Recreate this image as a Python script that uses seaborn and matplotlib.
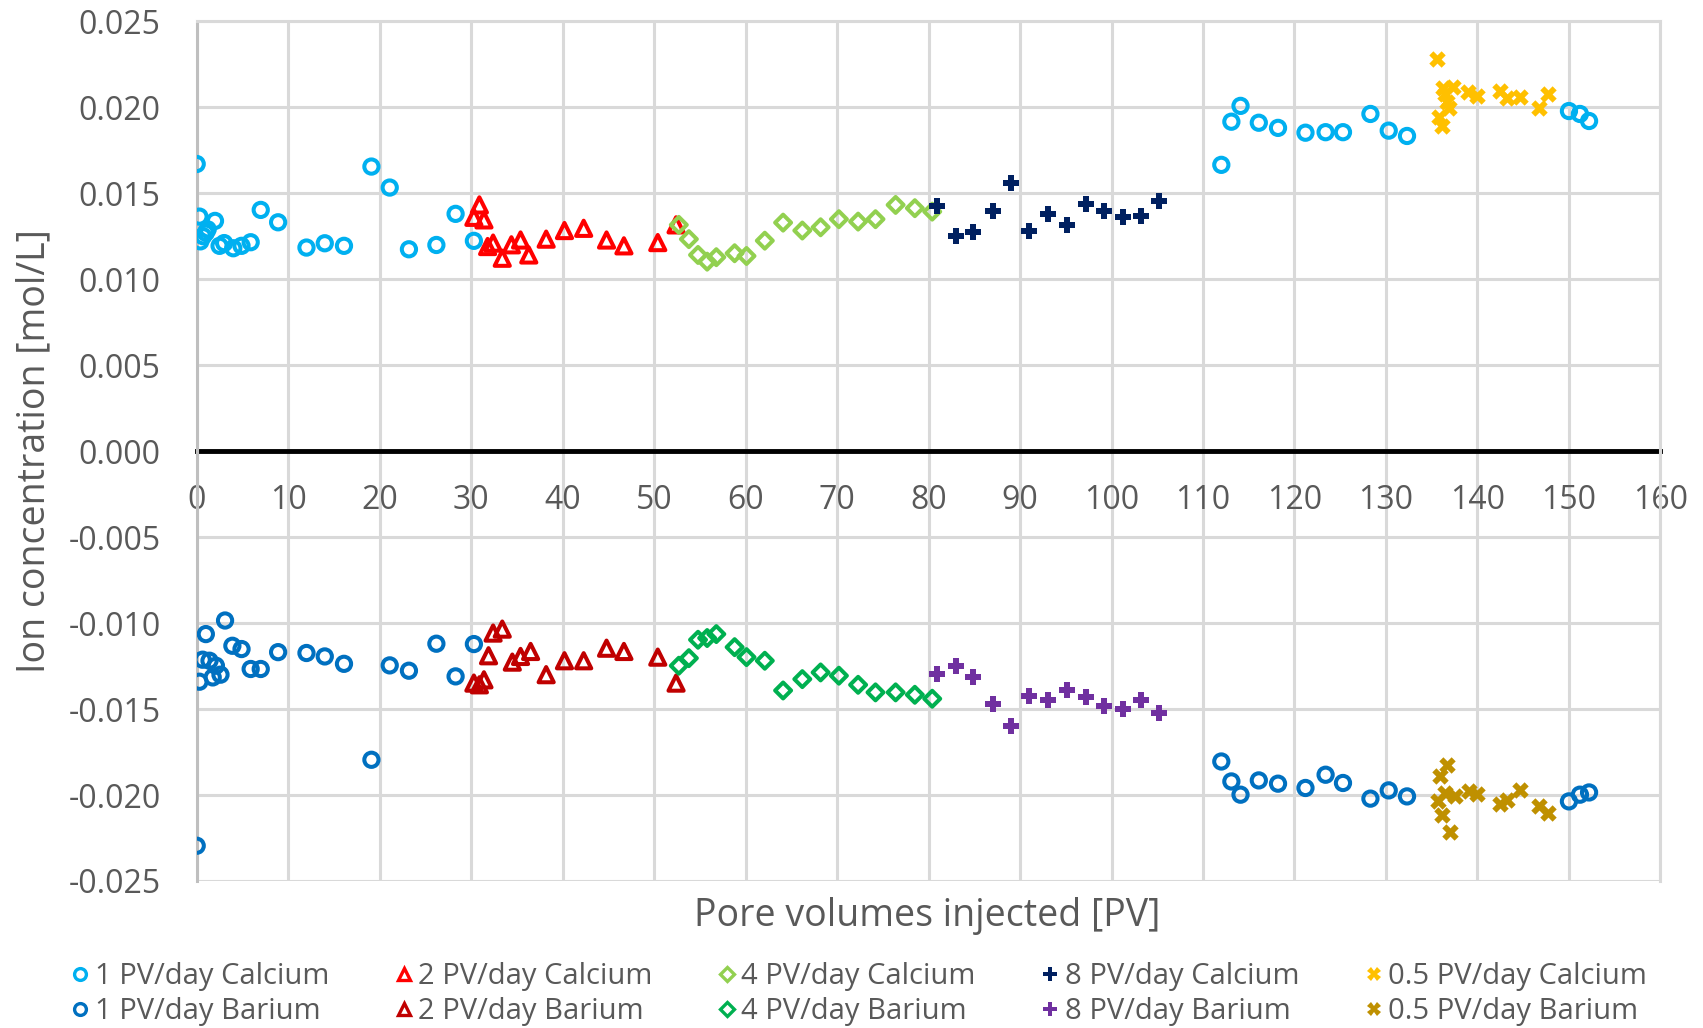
import matplotlib
matplotlib.use("Agg")
import matplotlib.pyplot as plt
import seaborn as sns
import pandas as pd
from matplotlib.lines import Line2D

# ---------------- data ----------------
ca1_x = [0, 0.3, 0.4, 0.7, 1.0, 1.2, 2.0, 2.5, 3.0, 4.0, 4.9, 5.9, 7.0, 8.9, 12.0, 14.0, 16.1,
         19.1, 21.1, 23.2, 26.2, 28.3, 30.3,
         112.0, 113.1, 114.1, 116.1, 118.2, 121.2, 123.4, 125.3, 128.3, 130.3, 132.3, 150.0, 151.2, 152.2]
ca1_y = [0.0167, 0.01364, 0.0122, 0.0125, 0.0127, 0.0129, 0.01339, 0.01194, 0.0121, 0.0118, 0.01194,
         0.01215, 0.01403, 0.01331, 0.01184, 0.01209, 0.01194, 0.01655, 0.01533, 0.01174, 0.01199,
         0.0138, 0.01223,
         0.01665, 0.01916, 0.02008, 0.0191, 0.0188, 0.01852, 0.01855, 0.01855, 0.01961, 0.01864,
         0.01833, 0.01978, 0.01961, 0.0192]

ba1_x = [0, 0.3, 0.65, 1.0, 1.4, 1.75, 2.1, 2.6, 3.1, 3.9, 4.9, 5.9, 7.0, 8.9, 12.0, 14.0, 16.1,
         19.1, 21.1, 23.2, 26.2, 28.3, 30.3,
         112.0, 113.1, 114.1, 116.1, 118.2, 121.2, 123.4, 125.3, 128.3, 130.3, 132.3, 150.0, 151.2, 152.2]
ba1_y = [-0.02295, -0.01341, -0.01213, -0.01064, -0.01219, -0.01316, -0.01248, -0.013, -0.00985,
         -0.01132, -0.01151, -0.01267, -0.01267, -0.01169, -0.01174, -0.01194, -0.01237, -0.01795,
         -0.01246, -0.01277, -0.0112, -0.0131, -0.01122,
         -0.01805, -0.01921, -0.01998, -0.01915, -0.01934, -0.01959, -0.01882, -0.0193, -0.02021,
         -0.01973, -0.02008, -0.02037, -0.01998, -0.01985]

ca2_x = [30.3, 30.9, 31.4, 31.8, 32.4, 33.4, 34.4, 35.4, 36.3, 38.2, 40.2, 42.3, 44.8, 46.7, 50.4, 52.4]
ca2_y = [0.0136, 0.01432, 0.01345, 0.0119, 0.0121, 0.01122, 0.012, 0.01228, 0.01141, 0.01233,
         0.01283, 0.01296, 0.01228, 0.01194, 0.01213, 0.01316]
ba2_x = [30.3, 30.9, 31.4, 31.9, 32.4, 33.4, 34.5, 35.4, 36.5, 38.2, 40.2, 42.3, 44.8, 46.7, 50.4, 52.4]
ba2_y = [-0.01349, -0.01359, -0.0133, -0.0119, -0.01058, -0.01035, -0.01227, -0.01194, -0.01165,
         -0.013, -0.01219, -0.01219, -0.01146, -0.01165, -0.01198, -0.01349]

pv4_x = [52.7, 53.8, 54.8, 55.8, 56.8, 58.8, 60.1, 62.1, 64.1, 66.2, 68.2, 70.2, 72.3, 74.2, 76.4, 78.5, 80.4]
ca4_y = [0.01316, 0.01233, 0.01141, 0.01102, 0.01128, 0.01151, 0.01135, 0.01224, 0.01329, 0.01283,
         0.01302, 0.01349, 0.01335, 0.01349, 0.01432, 0.01413, 0.01393]
ba4_y = [-0.01248, -0.01204, -0.01097, -0.01087, -0.01064, -0.0114, -0.01198, -0.01219, -0.01392,
         -0.01326, -0.01287, -0.01306, -0.01359, -0.01403, -0.01403, -0.01417, -0.0144]

pv8_x = [80.9, 83.0, 84.9, 87.0, 89.0, 91.0, 93.1, 95.1, 97.2, 99.2, 101.2, 103.2, 105.2]
ca8_y = [0.01428, 0.01252, 0.01277, 0.01399, 0.01558, 0.01281, 0.01378, 0.01316, 0.01436, 0.01399,
         0.01364, 0.0137, 0.01457]
ba8_y = [-0.01295, -0.01252, -0.01314, -0.01469, -0.01601, -0.01423, -0.0145, -0.01388, -0.01427,
         -0.01481, -0.01498, -0.0145, -0.01523]

ca05_x = [135.6, 136.2, 137.3, 136.5, 136.7, 136.9, 135.8, 136.1, 139.0, 140.0, 142.5, 143.2, 144.6, 146.7, 147.7]
ca05_y = [0.02281, 0.0211, 0.0212, 0.02076, 0.02029, 0.01994, 0.01945, 0.01891, 0.02091, 0.02067,
          0.02095, 0.02052, 0.02062, 0.01994, 0.02076]
ba05_x = [136.7, 135.9, 136.5, 137.5, 135.7, 136.1, 137.0, 139.1, 140.0, 142.5, 143.2, 144.6, 146.7, 147.7]
ba05_y = [-0.01828, -0.01892, -0.01988, -0.02008, -0.02037, -0.02115, -0.02215, -0.01979, -0.01994,
          -0.0205, -0.0203, -0.01969, -0.02066, -0.02105]

x_ticks = [0, 10, 20, 30, 40, 50, 60, 70, 80, 90, 100, 110, 120, 130, 140, 150, 160]
y_ticks = [-0.025, -0.020, -0.015, -0.010, -0.005, 0.0, 0.005, 0.010, 0.015, 0.020, 0.025]
x_label = "Pore volumes injected [PV]"
y_label = "Ion concentration [mol/L]"

series = [
    ("1 PV/day Calcium", ca1_x, ca1_y, "o", "#00B0F0", True),
    ("1 PV/day Barium", ba1_x, ba1_y, "o", "#0070C0", True),
    ("2 PV/day Calcium", ca2_x, ca2_y, "^", "#FF0000", True),
    ("2 PV/day Barium", ba2_x, ba2_y, "^", "#C00000", True),
    ("4 PV/day Calcium", pv4_x, ca4_y, "D", "#92D050", True),
    ("4 PV/day Barium", pv4_x, ba4_y, "D", "#00B050", True),
    ("8 PV/day Calcium", pv8_x, ca8_y, "P", "#002060", False),
    ("8 PV/day Barium", pv8_x, ba8_y, "P", "#7030A0", False),
    ("0.5 PV/day Calcium", ca05_x, ca05_y, "X", "#FFC000", False),
    ("0.5 PV/day Barium", ba05_x, ba05_y, "X", "#BF9000", False),
]

# ---------------- style ----------------
sns.set_theme(style="white")
plt.rcParams['font.family'] = ['Open Sans', 'DejaVu Sans']
TXT = "#595959"
GRID = "#D9D9D9"

fig = plt.figure(figsize=(17.03, 10.28), dpi=100)
ax = fig.add_axes([0.1155, 0.143, 0.8595, 0.8363])

sizes = {"o": 105, "^": 120, "D": 66, "P": 140, "X": 140}
for name, xs, ys, mk, col, hollow in series:
    df = pd.DataFrame({"x": xs, "y": ys})
    if hollow:
        sns.scatterplot(data=df, x="x", y="y", ax=ax, marker=mk, s=sizes[mk],
                        facecolor="none", edgecolor=col, linewidth=2.9, zorder=3)
    else:
        sns.scatterplot(data=df, x="x", y="y", ax=ax, marker=mk, s=sizes[mk],
                        color=col, edgecolor=col, linewidth=0, zorder=3)

ax.set_xlim(0, 160)
ax.set_ylim(-0.025, 0.025)
ax.set_xticks(x_ticks)
ax.set_yticks(y_ticks)
ax.set_xticklabels([str(v) for v in x_ticks])
ax.set_yticklabels([f"{v:.3f}" for v in y_ticks])
ax.grid(True, color=GRID, linewidth=2.2, zorder=0)
ax.set_axisbelow(True)

for sp in ("top", "right"):
    ax.spines[sp].set_color(GRID)
    ax.spines[sp].set_linewidth(2.2)
ax.spines["left"].set_color("#BFBFBF")
ax.spines["left"].set_linewidth(2.2)
ax.spines["bottom"].set_position(("data", 0))
ax.spines["bottom"].set_color("black")
ax.spines["bottom"].set_linewidth(3.5)
ax.spines["bottom"].set_zorder(2)

ax.tick_params(axis="both", length=0, labelsize=23, colors=TXT)
ax.tick_params(axis="y", pad=26)
ax.tick_params(axis="x", pad=24)

ax.set_xlabel("")
ax.set_ylabel("")
fig.text(0.5445, 0.109, x_label, ha="center", va="center", fontsize=27, color=TXT)
fig.text(0.020, 0.561, y_label, ha="center", va="center", fontsize=27, color=TXT, rotation=90)

handles = []
labels = []
for name, xs, ys, mk, col, hollow in series:
    if hollow:
        h = Line2D([], [], linestyle="none", marker=mk, markersize=8.5 if mk != "D" else 7,
                   markerfacecolor="none", markeredgecolor=col, markeredgewidth=2.4)
    else:
        h = Line2D([], [], linestyle="none", marker=mk, markersize=10,
                   markerfacecolor=col, markeredgecolor=col, markeredgewidth=0)
    handles.append(h)
    labels.append(name)

leg = fig.legend(handles, labels, ncol=5, loc="lower center", bbox_to_anchor=(0.505, -0.024),
                 frameon=False, fontsize=21, handlelength=0.5, handletextpad=0.25,
                 columnspacing=2.3, labelspacing=0.22, labelcolor=TXT)

fig.savefig("out.png", dpi=100)
